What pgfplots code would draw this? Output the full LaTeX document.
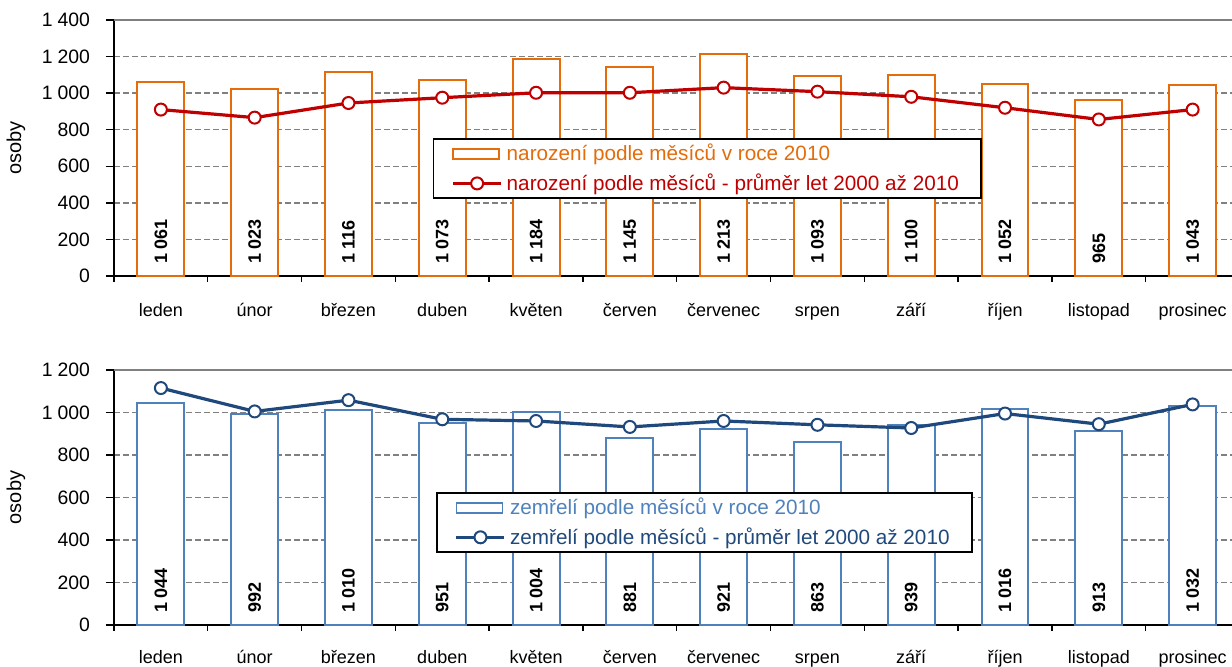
\documentclass[border=0pt]{standalone}
\usepackage{pgfplots}
\pgfplotsset{compat=1.18}
\usepackage{pgfplotstable}
\usepackage{fontspec}
\setmainfont{Liberation Sans}

\definecolor{orng}{HTML}{E46C0A}
\definecolor{dred}{HTML}{C00000}
\definecolor{lblue}{HTML}{4F81BD}
\definecolor{dblue}{HTML}{1F497D}
\definecolor{gridgray}{HTML}{808080}

\pgfkeys{/pgf/number format/.cd, assume math mode=true, 1000 sep={\hspace{0.25em}}}

\pgfplotstableread{
x z val avg
0 0 1061 910
1 0 1023 866
2 0 1116 946
3 0 1073 975
4 0 1184 1002
5 0 1145 1002
6 0 1213 1030
7 0 1093 1008
8 0 1100 980
9 0 1052 920
10 0 965 856
11 0 1043 910
}\births

\pgfplotstableread{
x z val avg
0 0 1044 1115
1 0 992 1005
2 0 1010 1058
3 0 951 968
4 0 1004 960
5 0 881 932
6 0 921 960
7 0 863 942
8 0 939 927
9 0 1016 995
10 0 913 945
11 0 1032 1038
}\deaths

\pgfplotsset{
  mychart/.style={
    scale only axis,
    width=559pt,
    xmin=-0.5, xmax=11.42,
    ymin=0,
    axis x line*=bottom, axis y line*=left,
    axis line style={black, line width=0.9pt},
    ymajorgrids,
    grid style={dashed, gridgray, line width=0.7pt, dash pattern=on 3pt off 1.5pt},
    xtick={0,...,11},
    xticklabels={leden,únor,březen,duben,květen,červen,červenec,srpen,září,říjen,listopad,prosinec},
    major x tick style={draw=none},
    minor xtick={-0.5,0.5,...,10.5},
    minor x tick style={black, line width=0.7pt},
    y tick style={black, line width=0.7pt},
    tick align=outside,
    major tick length=4pt, minor tick length=3pt,
    xticklabel style={font=\fontsize{9}{10}\selectfont, text height=7pt, text depth=2pt},
    yticklabel style={font=\fontsize{9.7}{11}\selectfont, xshift=-4.5pt},
    every axis y label/.style={at={(axis description cs:-0.0877,0.5)}, rotate=90, anchor=center, font=\fontsize{10}{12}\selectfont},
    ylabel={osoby},
    clip=false,
    legend cell align=left,
    legend style={draw=black, line width=0.9pt, fill=white, anchor=north west,
      font=\fontsize{10.35}{12}\selectfont, row sep=1pt, inner xsep=9pt, inner ysep=0.5pt,
      /tikz/every even column/.append style={column sep=4.5pt}},
  },
  barlegend/.style={legend image code/.code={\draw[##1, line width=0.9pt] (0pt,-2.5pt) rectangle (23pt,2.5pt);}},
  linelegend/.style={legend image code/.code={\draw[##1, mark repeat=2, mark phase=2] plot coordinates {(0pt,0pt) (12pt,0pt) (24pt,0pt)};}},
  barlabels/.style={draw=none, mark=none, forget plot,
    nodes near coords, point meta=\thisrow{val},
    nodes near coords style={rotate=90, anchor=west, inner xsep=6pt, inner ysep=0pt,
      font=\fontsize{9}{10}\selectfont\bfseries, text=black}},
}

\begin{document}
\begin{tikzpicture}
\begin{axis}[mychart, at={(57pt,195.5pt)}, anchor=south west, height=128pt,
  ymax=1400, ytick={0,200,...,1400},
  xticklabel style={yshift=-5.5pt},
  legend style={at={(0.285,0.539)}}]
\addplot[gridgray, line width=0.8pt, forget plot] coordinates {(-0.5,1400) (11.42,1400)};
\addplot[ybar, bar width=0.5, bar shift=0pt, draw=orng, fill=white, line width=1pt, barlegend] table[x=x, y=val] {\births};
\addlegendentry{\textcolor{orng}{narození podle měsíců v roce 2010}}
\addplot[dred, line width=1.6pt, mark=*, mark options={fill=white, draw=dred, line width=1pt}, mark size=3pt, linelegend] table[x=x, y=avg] {\births};
\addlegendentry{\textcolor{dred}{narození podle měsíců - průměr let 2000 až 2010}}
\addplot[barlabels] table[x=x, y=z] {\births};
\end{axis}

\begin{axis}[mychart, at={(57pt,21pt)}, anchor=south west, height=127.5pt,
  ymax=1200, ytick={0,200,...,1200},
  xticklabel style={yshift=-4.5pt},
  legend style={at={(0.288,0.522)}}]
\addplot[gridgray, line width=0.8pt, forget plot] coordinates {(-0.5,1200) (11.42,1200)};
\addplot[ybar, bar width=0.5, bar shift=0pt, draw=lblue, fill=white, line width=1pt, barlegend] table[x=x, y=val] {\deaths};
\addlegendentry{\textcolor{lblue}{zemřelí podle měsíců v roce 2010}}
\addplot[dblue, line width=1.6pt, mark=*, mark options={fill=white, draw=dblue, line width=1pt}, mark size=3pt, linelegend] table[x=x, y=avg] {\deaths};
\addlegendentry{\textcolor{dblue}{zemřelí podle měsíců - průměr let 2000 až 2010}}
\addplot[barlabels] table[x=x, y=z] {\deaths};
\end{axis}
\pgfresetboundingbox
\useasboundingbox (0pt,0pt) rectangle (616pt,333.5pt);
\end{tikzpicture}
\end{document}
